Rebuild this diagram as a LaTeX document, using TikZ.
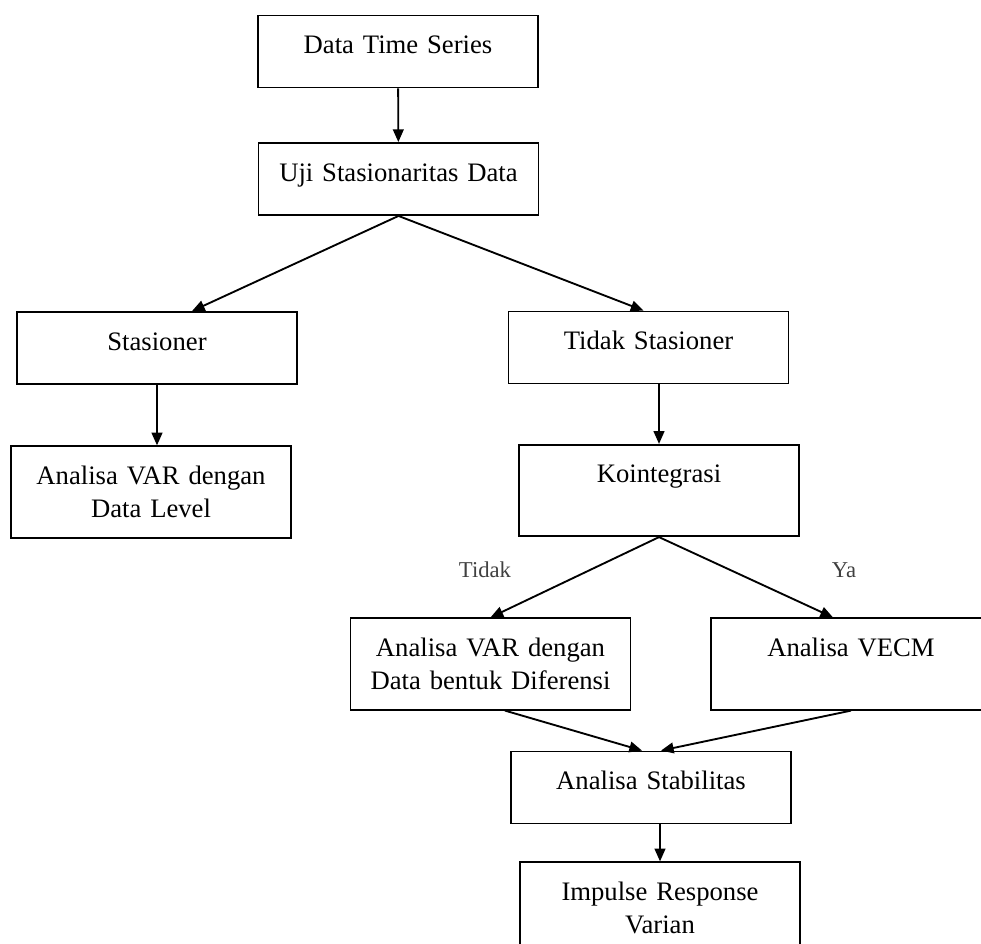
\documentclass[tikz,border=0pt]{standalone}
\usepackage{fontspec}
\setmainfont{Liberation Serif}
\usetikzlibrary{arrows.meta,calc}

\begin{document}
\begin{tikzpicture}[x=0.75pt,y=-0.75pt,line width=1.4pt,
    >={Triangle[length=9.5pt,width=8pt]},
    box/.style={draw, text width=210pt, align=center, inner sep=0pt,
      text height=28.5pt, text depth=25.5pt,
      font=\fontsize{20}{24.75}\selectfont},
    tallbox/.style={box, text depth=40pt},
    answer/.style={font=\fontsize{17}{20}\selectfont, text=black!75}]
   \useasboundingbox (0,0) rectangle (981,943);
   \clip (0,0) rectangle (981,943);

   \node[box] (data) at (398,51.5) {Data Time Series};
   \node[box] (uji) at (398.5,179) {Uji Stasionaritas Data};
   \node[box] (stas) at (157,348) {Stasioner};
   \node[box] (tidak) at (648.5,347.5) {Tidak Stasioner};
   \node[tallbox] (varlevel) at (151,492) {Analisa VAR dengan\\Data Level};
   \node[tallbox] (koin) at (659,490.5) {Kointegrasi};
   \node[tallbox] (vardiff) at (490.5,664) {Analisa VAR dengan\\Data bentuk Diferensi};
   \node[tallbox] (vecm) at (851,664) {Analisa VECM};
   \node[box] (stab) at (651,787.5) {Analisa Stabilitas};
   \node[tallbox] (irf) at (660,908) {Impulse Response\\Varian};

   \node[answer] (no) at (485,570) {Tidak};
   \node[answer] (yes) at (844,570) {Ya};

   \coordinate (stasin) at ($(stas.north)+(35,0)$);
   \coordinate (tidakin) at ($(tidak.north)+(-5,0)$);
   \coordinate (vecmin) at ($(vecm.north)+(-18,0)$);
   \coordinate (diffout) at ($(vardiff.south)+(14.5,0)$);
   \coordinate (stabinl) at ($(stab.north)+(-9,0)$);
   \coordinate (stabinr) at ($(stab.north)+(10,0)$);

    \path[->]
    (data) edge (uji)
    (uji.south)
        edge (stasin)
        edge (tidakin)
    (stas.south) edge (stas.south |- varlevel.north)
    (koin.north |- tidak.south) edge (koin.north)
    (koin.south)
        edge (vardiff.north)
        edge (vecmin)
    (diffout) edge (stabinl)
    (vecm.south) edge (stabinr)
    (irf.north |- stab.south) edge (irf.north);
\end{tikzpicture}
\end{document}
